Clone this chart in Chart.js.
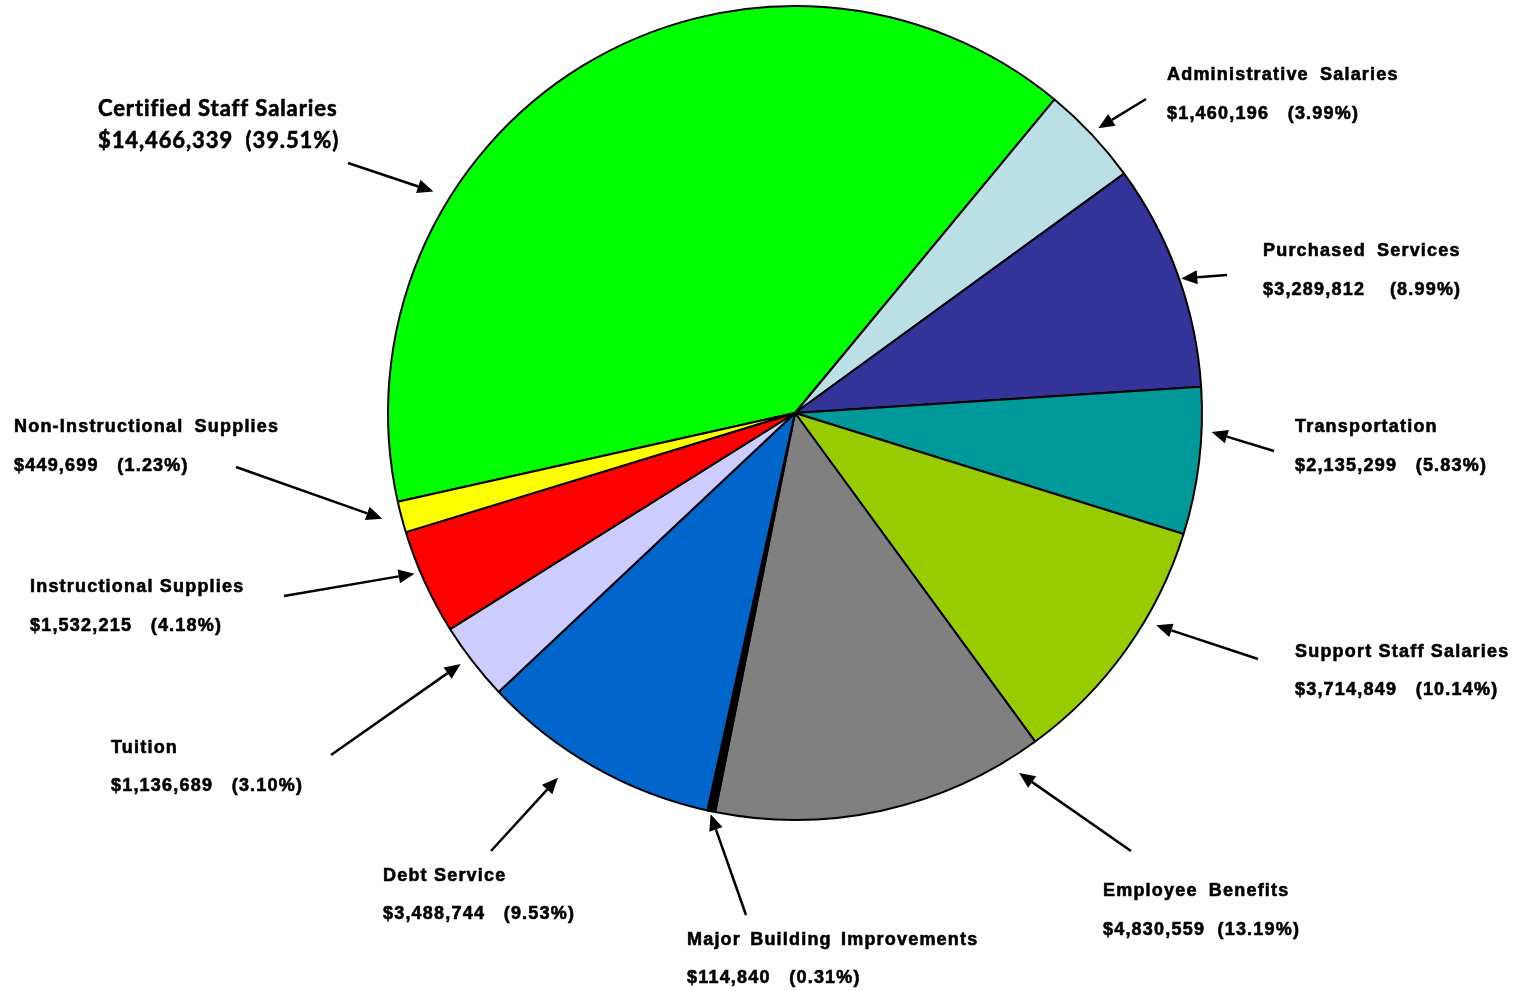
<!DOCTYPE html>
<html lang="en">
<head>
<meta charset="UTF-8">
<title>Expenditures</title>
<script src="https://cdn.jsdelivr.net/npm/chart.js"></script>
<style>
    html, body { margin: 0; padding: 0; background: #ffffff; }
    #wrap { position: relative; width: 1524px; height: 991px; }
</style>
</head>
<body>
<div id="wrap"><canvas id="pieChart"></canvas></div>
<script>
// slices, clockwise, starting with the big green one
const categories = ['Certified Staff Salaries', 'Administrative Salaries', 'Purchased Services', 'Transportation',
    'Support Staff Salaries', 'Employee Benefits', 'Major Building Improvements', 'Debt Service', 'Tuition',
    'Instructional Supplies', 'Non-Instructional Supplies'];
const amounts = [14466339, 1460196, 3289812, 2135299, 3714849, 4830559, 114840, 3488744, 1136689, 1532215, 449699];
const percents = [39.51, 3.99, 8.99, 5.83, 10.14, 13.19, 0.31, 9.53, 3.10, 4.18, 1.23];
const sliceColors = ['#00FF00', '#BAE0E5', '#333399', '#009999', '#99CC00', '#808080', '#000000', '#0066CC',
    '#CCCCFF', '#FF0000', '#FFFF00'];

// callout layout: text position, arrow tail, where the tip lands in the slice (fraction of span, gap past the rim)
const callouts = [
    { x: 98,   y: 109, lh: 32, tail: [348, 163], f: 0.31, gap: 17, sp: 2, ws: 0, big: true },
    { x: 1167, y: 75,  lh: 39, tail: [1146, 99], f: 0.50, gap: 9,  sp: 3, ws: 5 },
    { x: 1263, y: 251, lh: 39, tail: [1227, 275], f: 0.52, gap: 2, sp: 4, ws: 5 },
    { x: 1295, y: 427, lh: 39, tail: [1274, 451], f: 0.30, gap: 10, sp: 3, ws: 0 },
    { x: 1295, y: 652, lh: 38, tail: [1258, 659], f: 0.36, gap: 12, sp: 3, ws: 0 },
    { x: 1103, y: 891, lh: 39, tail: [1131, 851], f: 0.09, gap: 17, sp: 2, ws: 5 },
    { x: 687,  y: 940, lh: 38, tail: [746, 915], f: 0.50, gap: 3,  sp: 3, ws: 3 },
    { x: 383,  y: 876, lh: 38, tail: [491, 851], f: 0.60, gap: 28, sp: 3, ws: 0 },
    { x: 111,  y: 748, lh: 38, tail: [331, 755], f: 0.57, gap: 11, sp: 3, ws: 0 },
    { x: 30,   y: 587, lh: 39, tail: [284, 596], f: 0.61, gap: 6,  sp: 3, ws: 0 },
    { x: 14,   y: 427, lh: 39, tail: [236, 467], f: 0.60, gap: 19, sp: 3, ws: 5 }
];

function drawArrow(ctx, x1, y1, x2, y2) {
    const ang = Math.atan2(y2 - y1, x2 - x1);
    const head = 16, half = 7;
    const bx = x2 - head * Math.cos(ang), by = y2 - head * Math.sin(ang);
    ctx.beginPath();
    ctx.moveTo(x1, y1);
    ctx.lineTo(bx, by);
    ctx.lineWidth = 2.5;
    ctx.strokeStyle = '#000';
    ctx.stroke();
    ctx.beginPath();
    ctx.moveTo(x2, y2);
    ctx.lineTo(bx + half * Math.sin(ang), by - half * Math.cos(ang));
    ctx.lineTo(bx - half * Math.sin(ang), by + half * Math.cos(ang));
    ctx.closePath();
    ctx.fillStyle = '#000';
    ctx.fill();
}

const calloutPlugin = {
    id: 'callouts',
    afterDatasetsDraw(chart) {
        const ctx = chart.ctx;
        const arcs = chart.getDatasetMeta(0).data;
        ctx.save();
        ctx.textAlign = 'left';
        ctx.textBaseline = 'middle';
        ctx.fillStyle = '#000';
        callouts.forEach((c, i) => {
            const arc = arcs[i];
            const a = arc.startAngle + c.f * (arc.endAngle - arc.startAngle);
            const r = arc.outerRadius + c.gap;
            drawArrow(ctx, c.tail[0], c.tail[1], arc.x + r * Math.cos(a), arc.y + r * Math.sin(a));

            const money = '$' + amounts[i].toLocaleString('en-US');
            const line2 = money + ' '.repeat(c.sp) + '(' + percents[i].toFixed(2) + '%)';
            if (c.big) {
                ctx.font = 'bold 22px Lato, "Open Sans", sans-serif';
                ctx.letterSpacing = '0.9px';
                ctx.wordSpacing = '0px';
            } else {
                ctx.font = 'bold 18px "Liberation Sans", Arial, sans-serif';
                ctx.letterSpacing = '1.2px';
                ctx.wordSpacing = c.ws + 'px';
            }
            ctx.fillStyle = '#000';
            ctx.strokeStyle = '#000';
            ctx.lineWidth = 0.6;
            ctx.fillText(categories[i], c.x, c.y);
            ctx.strokeText(categories[i], c.x, c.y);
            ctx.wordSpacing = '0px';
            ctx.fillText(line2, c.x, c.y + c.lh);
            ctx.strokeText(line2, c.x, c.y + c.lh);
        });
        ctx.restore();
    }
};

const ctx = document.getElementById('pieChart').getContext('2d');
new Chart(ctx, {
    type: 'pie',
    data: {
        labels: categories,
        datasets: [{
            data: amounts,
            backgroundColor: sliceColors,
            borderColor: '#000000',
            borderWidth: 2
        }]
    },
    options: {
        responsive: true,
        maintainAspectRatio: false,
        animation: false,
        rotation: -102.6,
        layout: { padding: { left: 387, right: 321, top: 5, bottom: 170 } },
        plugins: {
            legend: { display: false },
            tooltip: { enabled: false }
        }
    },
    plugins: [calloutPlugin]
});
</script>
</body>
</html>
